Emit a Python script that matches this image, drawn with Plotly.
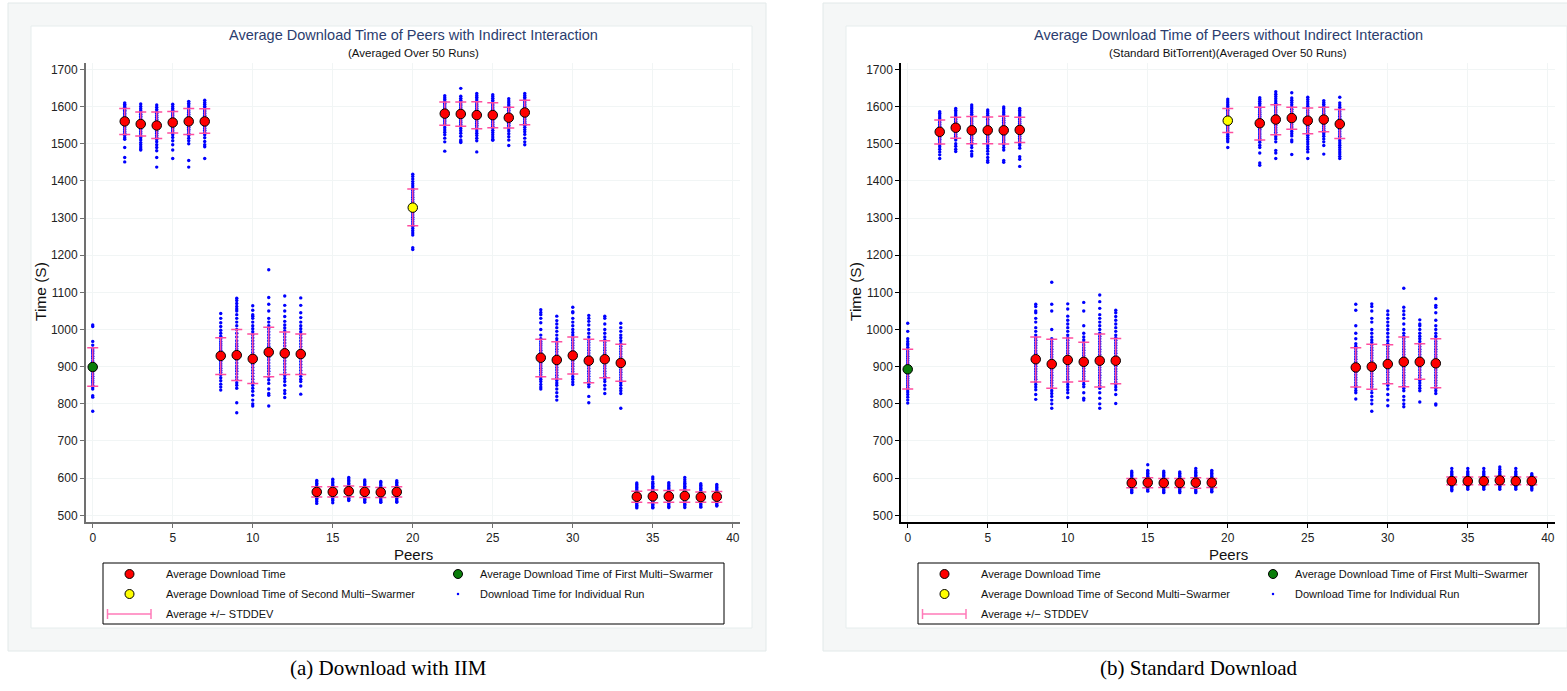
import plotly.graph_objects as go

W, H = 1567, 691

# ---------------- data ----------------
peers = [0, 2, 3, 4, 5, 6, 7, 8, 9, 10, 11, 12, 13, 14, 15, 16, 17, 18, 19,
         20, 22, 23, 24, 25, 26, 27, 28, 29, 30, 31, 32, 33, 34, 35, 36, 37, 38, 39]
first_multi_peer = 0
second_multi_peer = 20

# Panel (a): download with IIM
mean_iim = [899, 1560, 1553, 1549, 1557, 1560, 1560, 929, 931, 921, 939, 936, 934,
            563, 563, 565, 563, 562, 563, 1328, 1581, 1580, 1577, 1577, 1570, 1584,
            924, 918, 930, 916, 920, 910, 550, 551, 551, 552, 549, 550]
upper_iim = [951, 1595, 1585, 1585, 1587, 1595, 1594, 978, 1000, 988, 1006, 993, 988,
             577, 577, 579, 577, 575, 577, 1378, 1612, 1612, 1613, 1610, 1598, 1617,
             974, 967, 980, 974, 970, 960, 565, 568, 567, 568, 563, 564]
lower_iim = [847, 1525, 1521, 1514, 1529, 1525, 1528, 879, 863, 855, 873, 879, 879,
             549, 549, 550, 548, 548, 549, 1279, 1550, 1547, 1540, 1543, 1542, 1551,
             873, 867, 880, 857, 870, 861, 535, 534, 535, 535, 535, 535]
runs_iim = [
    [1012, 1008, 968, 958, 950, 945, 940, 935, 928, 922, 915, 910, 904, 898, 893, 887, 880, 874, 868, 862, 857, 850, 845, 840, 822, 818, 780],
    [1610, 1606, 1602, 1598, 1594, 1590, 1586, 1581, 1577, 1572, 1568, 1563, 1558, 1553, 1548, 1543, 1538, 1533, 1528, 1522, 1516, 1512, 1490, 1463, 1451],
    [1607, 1600, 1594, 1589, 1584, 1579, 1574, 1569, 1563, 1558, 1553, 1548, 1543, 1538, 1532, 1527, 1521, 1516, 1510, 1503, 1497, 1491, 1486, 1483],
    [1604, 1598, 1592, 1587, 1582, 1576, 1571, 1566, 1560, 1555, 1549, 1544, 1539, 1533, 1528, 1522, 1517, 1511, 1505, 1497, 1490, 1481, 1463, 1437],
    [1606, 1600, 1595, 1590, 1585, 1580, 1575, 1570, 1565, 1560, 1555, 1550, 1545, 1540, 1535, 1530, 1524, 1517, 1508, 1497, 1483, 1460],
    [1614, 1609, 1604, 1599, 1594, 1589, 1584, 1579, 1574, 1569, 1564, 1559, 1554, 1549, 1544, 1539, 1534, 1528, 1522, 1515, 1508, 1500, 1455, 1437],
    [1617, 1611, 1606, 1601, 1596, 1591, 1586, 1581, 1576, 1571, 1566, 1561, 1556, 1551, 1546, 1541, 1536, 1530, 1524, 1516, 1506, 1497, 1492, 1460],
    [1043, 1030, 1018, 1008, 998, 990, 982, 975, 968, 962, 956, 950, 944, 938, 932, 926, 920, 914, 908, 902, 896, 890, 884, 878, 870, 862, 853, 845, 837],
    [1084, 1078, 1070, 1062, 1055, 1050, 1040, 1030, 1020, 1010, 1000, 990, 980, 970, 962, 955, 948, 940, 932, 925, 918, 910, 902, 895, 888, 880, 872, 865, 857, 850, 842, 803, 776],
    [1064, 1052, 1040, 1036, 1030, 1020, 1010, 1002, 994, 986, 978, 970, 962, 954, 946, 938, 930, 922, 914, 906, 898, 890, 882, 874, 866, 858, 850, 842, 834, 823, 810, 800, 794],
    [1161, 1086, 1068, 1050, 1030, 1020, 1010, 1002, 994, 986, 978, 970, 962, 955, 948, 940, 932, 925, 918, 910, 902, 895, 888, 880, 872, 864, 855, 840, 828, 823, 794],
    [1090, 1065, 1050, 1035, 1022, 1012, 1004, 996, 988, 980, 972, 964, 956, 948, 940, 932, 924, 916, 908, 900, 892, 884, 876, 868, 860, 850, 836, 828, 817],
    [1085, 1065, 1045, 1032, 1020, 1010, 1002, 994, 986, 978, 970, 962, 954, 946, 938, 930, 922, 914, 906, 898, 890, 882, 874, 866, 860, 848, 826],
    [594, 590, 586, 582, 578, 574, 570, 566, 562, 558, 554, 550, 546, 542, 537, 532],
    [597, 592, 588, 584, 580, 576, 572, 568, 564, 560, 556, 552, 548, 544, 540, 534],
    [602, 598, 594, 590, 586, 582, 578, 574, 570, 566, 562, 558, 554, 550, 546, 542, 540],
    [595, 591, 587, 583, 579, 575, 571, 567, 563, 559, 555, 551, 547, 543, 539, 535],
    [591, 588, 584, 580, 576, 572, 568, 564, 560, 556, 552, 548, 544, 540, 536, 535],
    [593, 589, 585, 581, 577, 573, 569, 565, 561, 557, 553, 549, 545, 541, 537, 535],
    [1418, 1412, 1405, 1398, 1392, 1386, 1380, 1374, 1368, 1362, 1356, 1350, 1344, 1338, 1332, 1326, 1320, 1314, 1308, 1302, 1296, 1290, 1284, 1278, 1272, 1266, 1260, 1254, 1220, 1215],
    [1629, 1624, 1619, 1614, 1609, 1604, 1599, 1594, 1589, 1584, 1579, 1574, 1569, 1564, 1559, 1554, 1549, 1543, 1537, 1531, 1524, 1515, 1505, 1480],
    [1649, 1628, 1622, 1617, 1612, 1607, 1602, 1597, 1592, 1587, 1582, 1577, 1572, 1567, 1562, 1557, 1552, 1547, 1541, 1535, 1528, 1520, 1510, 1506, 1503],
    [1635, 1630, 1625, 1620, 1615, 1610, 1605, 1600, 1595, 1590, 1585, 1580, 1575, 1570, 1565, 1560, 1555, 1550, 1545, 1540, 1534, 1528, 1522, 1515, 1508, 1478],
    [1632, 1627, 1622, 1617, 1612, 1607, 1602, 1597, 1592, 1587, 1582, 1577, 1572, 1567, 1562, 1557, 1552, 1547, 1542, 1536, 1530, 1524, 1518, 1512, 1509],
    [1621, 1615, 1610, 1605, 1600, 1595, 1590, 1585, 1580, 1575, 1570, 1565, 1560, 1555, 1550, 1545, 1540, 1534, 1527, 1519, 1510, 1495],
    [1635, 1630, 1625, 1620, 1615, 1610, 1605, 1600, 1595, 1590, 1585, 1580, 1575, 1570, 1565, 1560, 1555, 1550, 1544, 1538, 1532, 1525, 1515, 1505, 1497],
    [1053, 1046, 1040, 1030, 1018, 1000, 985, 975, 968, 962, 956, 950, 944, 938, 932, 926, 920, 914, 908, 902, 896, 890, 884, 878, 872, 866, 860, 852, 845, 840],
    [1036, 1024, 1015, 1005, 995, 985, 975, 968, 961, 954, 947, 940, 933, 926, 919, 912, 905, 898, 891, 884, 877, 870, 863, 856, 850, 840, 830, 820, 810],
    [1060, 1048, 1045, 1030, 1020, 1010, 1000, 992, 985, 978, 971, 964, 957, 950, 943, 936, 929, 922, 915, 908, 901, 894, 887, 880, 873, 866, 859, 852],
    [1038, 1030, 1022, 1012, 1000, 990, 980, 972, 965, 958, 951, 944, 937, 930, 923, 916, 909, 902, 895, 888, 881, 874, 867, 860, 853, 846, 820, 803],
    [1036, 1030, 1015, 1000, 990, 980, 972, 965, 958, 951, 944, 937, 930, 923, 916, 909, 902, 895, 888, 881, 874, 867, 860, 850, 840, 828],
    [1017, 1005, 995, 985, 978, 970, 962, 955, 948, 941, 934, 927, 920, 913, 906, 899, 892, 885, 878, 871, 864, 857, 850, 842, 835, 828, 788],
    [587, 583, 579, 575, 571, 567, 563, 559, 555, 551, 547, 543, 539, 535, 531, 527, 523, 520],
    [603, 598, 590, 586, 582, 578, 574, 570, 566, 562, 558, 554, 550, 546, 542, 538, 534, 530, 526, 522, 520],
    [588, 584, 580, 576, 572, 568, 564, 560, 556, 552, 548, 544, 540, 536, 532, 528, 524, 521],
    [602, 596, 590, 586, 582, 578, 574, 570, 566, 562, 558, 554, 550, 546, 542, 538, 534, 530, 526, 521],
    [585, 581, 577, 573, 569, 565, 561, 557, 553, 549, 545, 541, 537, 533, 529, 525, 522],
    [583, 579, 575, 571, 567, 563, 559, 555, 551, 547, 543, 539, 535, 531, 527, 525],
]

# Panel (b): standard download
mean_std = [893, 1532, 1543, 1536, 1536, 1536, 1537, 920, 907, 918, 913, 916, 916,
            587, 588, 587, 587, 588, 588, 1562, 1555, 1565, 1569, 1562, 1565, 1553,
            898, 900, 907, 913, 913, 909, 592, 592, 592, 594, 592, 592]
upper_std = [947, 1564, 1571, 1573, 1572, 1574, 1571, 980, 974, 977, 966, 988, 976,
             599, 601, 599, 599, 601, 599, 1595, 1598, 1605, 1598, 1596, 1598, 1592,
             951, 960, 959, 980, 962, 975, 603, 603, 603, 605, 603, 603]
lower_std = [840, 1499, 1515, 1500, 1500, 1499, 1503, 859, 842, 859, 861, 845, 854,
             574, 574, 575, 575, 573, 575, 1530, 1510, 1524, 1539, 1527, 1532, 1514,
             845, 839, 854, 846, 866, 843, 582, 582, 582, 582, 582, 582]
runs_std = [
    [1017, 995, 975, 968, 962, 958, 952, 946, 940, 934, 928, 922, 916, 910, 904, 898, 892, 886, 880, 874, 868, 862, 856, 850, 844, 838, 832, 825, 818, 810, 802],
    [1586, 1582, 1577, 1572, 1567, 1562, 1557, 1552, 1547, 1542, 1537, 1532, 1527, 1522, 1517, 1512, 1507, 1502, 1497, 1492, 1485, 1478, 1470, 1460],
    [1595, 1590, 1585, 1580, 1575, 1570, 1565, 1560, 1555, 1550, 1545, 1540, 1535, 1530, 1525, 1520, 1515, 1510, 1500, 1493, 1485, 1479],
    [1604, 1599, 1594, 1589, 1584, 1579, 1574, 1569, 1564, 1559, 1554, 1549, 1544, 1539, 1534, 1529, 1524, 1519, 1514, 1509, 1503, 1497, 1490, 1480, 1472, 1467],
    [1591, 1586, 1581, 1576, 1571, 1566, 1561, 1556, 1551, 1546, 1541, 1536, 1531, 1526, 1521, 1516, 1511, 1506, 1500, 1494, 1487, 1480, 1472, 1463, 1455, 1450],
    [1599, 1594, 1588, 1583, 1578, 1573, 1568, 1563, 1558, 1553, 1548, 1543, 1538, 1533, 1528, 1523, 1518, 1513, 1508, 1503, 1497, 1490, 1483, 1455, 1450],
    [1595, 1590, 1585, 1580, 1575, 1570, 1565, 1560, 1555, 1550, 1545, 1540, 1535, 1530, 1525, 1520, 1515, 1510, 1505, 1500, 1495, 1488, 1465, 1458, 1439],
    [1068, 1062, 1050, 1045, 1030, 1020, 1005, 995, 985, 978, 971, 964, 957, 950, 943, 936, 929, 922, 915, 908, 901, 894, 887, 880, 873, 866, 859, 852, 845, 838, 825, 812],
    [1127, 1068, 1050, 1000, 975, 968, 961, 954, 947, 940, 933, 926, 919, 912, 905, 898, 891, 884, 877, 870, 863, 856, 849, 842, 835, 828, 820, 810, 800, 788],
    [1069, 1055, 1036, 1025, 1015, 1005, 995, 985, 978, 971, 964, 957, 950, 943, 936, 929, 922, 915, 908, 901, 894, 887, 880, 873, 866, 859, 852, 845, 838, 830, 817],
    [1073, 1050, 1010, 990, 980, 972, 965, 958, 951, 944, 937, 930, 923, 916, 909, 902, 895, 888, 881, 874, 867, 860, 853, 846, 830, 815, 810],
    [1093, 1075, 1057, 1040, 1030, 1020, 1010, 1000, 990, 982, 975, 968, 961, 954, 947, 940, 933, 926, 919, 912, 905, 898, 891, 884, 877, 870, 863, 856, 849, 842, 830, 815, 800, 788],
    [1052, 1045, 1035, 1025, 1015, 1005, 995, 985, 978, 971, 964, 957, 950, 943, 936, 929, 922, 915, 908, 901, 894, 887, 880, 873, 866, 859, 852, 845, 838, 825, 801],
    [619, 615, 611, 607, 603, 599, 595, 591, 587, 583, 579, 575, 571, 567, 563, 561],
    [636, 621, 617, 613, 609, 605, 601, 597, 593, 589, 585, 581, 577, 573, 569, 565],
    [619, 615, 611, 607, 603, 599, 595, 591, 587, 583, 579, 575, 571, 567, 563, 561],
    [617, 613, 609, 605, 601, 597, 593, 589, 585, 581, 577, 573, 569, 565, 561],
    [626, 620, 616, 612, 608, 604, 600, 596, 592, 588, 584, 580, 576, 572, 568, 564, 561],
    [621, 617, 613, 609, 605, 601, 597, 593, 589, 585, 581, 577, 573, 569, 565, 563],
    [1620, 1615, 1610, 1605, 1600, 1595, 1590, 1585, 1580, 1575, 1570, 1565, 1560, 1555, 1550, 1545, 1540, 1535, 1530, 1525, 1520, 1515, 1510, 1505, 1490],
    [1624, 1619, 1614, 1609, 1604, 1599, 1594, 1589, 1584, 1579, 1574, 1569, 1564, 1559, 1554, 1549, 1544, 1539, 1534, 1529, 1524, 1519, 1514, 1509, 1504, 1496, 1490, 1475, 1448, 1442],
    [1640, 1633, 1627, 1621, 1615, 1609, 1603, 1597, 1591, 1585, 1579, 1573, 1567, 1561, 1555, 1549, 1543, 1537, 1531, 1525, 1519, 1513, 1505, 1482, 1475, 1460],
    [1637, 1623, 1617, 1611, 1605, 1599, 1593, 1587, 1581, 1575, 1569, 1563, 1557, 1551, 1545, 1539, 1533, 1527, 1521, 1510, 1505, 1471],
    [1625, 1619, 1613, 1607, 1601, 1595, 1589, 1583, 1577, 1571, 1565, 1559, 1553, 1547, 1541, 1535, 1529, 1523, 1517, 1511, 1505, 1499, 1492, 1485, 1478, 1460],
    [1616, 1611, 1606, 1601, 1596, 1591, 1586, 1581, 1576, 1571, 1566, 1561, 1556, 1551, 1546, 1541, 1536, 1531, 1526, 1520, 1513, 1505, 1495, 1472],
    [1625, 1610, 1604, 1598, 1592, 1586, 1580, 1574, 1568, 1562, 1556, 1550, 1544, 1538, 1532, 1526, 1520, 1514, 1508, 1502, 1496, 1490, 1484, 1478, 1472, 1466, 1460],
    [1068, 1052, 1010, 990, 975, 962, 955, 948, 941, 934, 927, 920, 913, 906, 899, 892, 885, 878, 871, 864, 857, 850, 843, 836, 830, 813],
    [1069, 1062, 1050, 1030, 1020, 1000, 990, 980, 972, 965, 958, 951, 944, 937, 930, 923, 916, 909, 902, 895, 888, 881, 874, 867, 860, 853, 846, 839, 830, 820, 810, 800, 780],
    [1050, 1040, 1030, 1020, 1010, 1000, 990, 980, 970, 962, 955, 948, 941, 934, 927, 920, 913, 906, 899, 892, 885, 878, 871, 864, 857, 850, 840, 825, 810, 795],
    [1111, 1060, 1050, 1040, 1030, 1015, 1000, 990, 982, 975, 968, 961, 954, 947, 940, 933, 926, 919, 912, 905, 898, 891, 884, 877, 870, 863, 856, 849, 842, 835, 820, 810, 800, 792],
    [1026, 1015, 1010, 1000, 990, 982, 975, 968, 961, 954, 947, 940, 933, 926, 919, 912, 905, 898, 891, 884, 877, 870, 863, 856, 849, 842, 835, 805],
    [1083, 1065, 1060, 1045, 1025, 1010, 1000, 990, 982, 975, 968, 961, 954, 947, 940, 933, 926, 919, 912, 905, 898, 891, 884, 877, 870, 863, 856, 849, 842, 835, 828, 800, 797],
    [626, 618, 614, 610, 606, 602, 598, 594, 590, 586, 582, 578, 574, 570, 566],
    [626, 618, 614, 610, 606, 602, 598, 594, 590, 586, 582, 578, 574, 570],
    [626, 618, 614, 610, 606, 602, 598, 594, 590, 586, 582, 578, 574, 570],
    [630, 624, 618, 614, 610, 606, 602, 598, 594, 590, 586, 582, 578, 574, 570],
    [626, 618, 614, 610, 606, 602, 598, 594, 590, 586, 582, 578, 574, 570],
    [612, 608, 604, 600, 596, 592, 588, 584, 580, 576, 572, 568],
]

x_ticks = [0, 5, 10, 15, 20, 25, 30, 35, 40]
y_ticks = [500, 600, 700, 800, 900, 1000, 1100, 1200, 1300, 1400, 1500, 1600, 1700]

titles = ["Average Download Time of Peers with Indirect Interaction",
          "Average Download Time of Peers without Indirect Interaction"]
subtitles = ["(Averaged Over 50 Runs)",
             "(Standard BitTorrent)(Averaged Over 50 Runs)"]
captions = ["(a) Download with IIM", "(b) Standard Download"]
legend_labels = ["Average Download Time", "Average Download Time of First Multi\u2212Swarmer",
                 "Average Download Time of Second Multi\u2212Swarmer", "Download Time for Individual Run",
                 "Average +/\u2212 STDDEV"]

# ---------------- styling ----------------
FONT = "Liberation Sans"
PINK = "#ff4d9f"
PINK_LIGHT = "#ff7ab8"
BLUE = "#0000ff"
RED = "#ff0000"
GREEN = "#0a7d0a"
YELLOW = "#ffff00"
NAVY = "#2b3d6e"


def X(px):
    return px / W


def Y(py):
    return 1 - py / H


fig = go.Figure()

panels = [
    dict(mean=mean_iim, up=upper_iim, lo=lower_iim, runs=runs_iim, xa="x", ya="y", dx=0,
         axcolor="#707070", axw=2),
    dict(mean=mean_std, up=upper_std, lo=lower_std, runs=runs_std, xa="x2", ya="y2", dx=815,
         axcolor="#000000", axw=1.5),
]

shapes = []
annotations = []

for i, p in enumerate(panels):
    dx = p["dx"]
    # individual runs
    xs = [pe for pe, vals in zip(peers, p["runs"]) for _ in vals]
    ys = [v for vals in p["runs"] for v in vals]
    fig.add_trace(go.Scatter(x=xs, y=ys, mode="markers", xaxis=p["xa"], yaxis=p["ya"],
                             marker=dict(size=3.4, color=BLUE, line=dict(width=0)),
                             showlegend=False, hoverinfo="skip"))
    # +/- stddev caps
    fig.add_trace(go.Scatter(x=peers, y=p["mean"], mode="markers", xaxis=p["xa"], yaxis=p["ya"],
                             marker=dict(size=1, color="rgba(0,0,0,0)"),
                             error_y=dict(type="data", symmetric=False,
                                          array=[u - m for u, m in zip(p["up"], p["mean"])],
                                          arrayminus=[m - l for m, l in zip(p["mean"], p["lo"])],
                                          color=PINK, thickness=1.5, width=5.5),
                             showlegend=False, hoverinfo="skip"))
    # averages
    for color, sel in [(RED, lambda pe: pe not in (first_multi_peer, second_multi_peer)),
                       (GREEN, lambda pe: pe == first_multi_peer),
                       (YELLOW, lambda pe: pe == second_multi_peer)]:
        px_ = [pe for pe in peers if sel(pe)]
        py_ = [m for pe, m in zip(peers, p["mean"]) if sel(pe)]
        fig.add_trace(go.Scatter(x=px_, y=py_, mode="markers", xaxis=p["xa"], yaxis=p["ya"],
                                 marker=dict(size=9.5, color=color, line=dict(color="#000", width=1)),
                                 showlegend=False, hoverinfo="skip"))

    # frames
    shapes.append(dict(type="rect", xref="paper", yref="paper", layer="below",
                       x0=X(8 + dx), x1=X(766 + dx), y0=Y(651), y1=Y(3),
                       fillcolor="#f5f7f7", line=dict(color="#e2e9e9", width=1)))
    shapes.append(dict(type="rect", xref="paper", yref="paper", layer="below",
                       x0=X(31 + dx), x1=X(752 + dx), y0=Y(628), y1=Y(26),
                       fillcolor="#ffffff", line=dict(color="#e6eded", width=1)))

    cx = 413 + dx
    annotations += [
        dict(text=titles[i], x=X(cx), y=Y(35), xref="paper", yref="paper", showarrow=False,
             xanchor="center", yanchor="middle", font=dict(family=FONT, size=14.5, color=NAVY)),
        dict(text=subtitles[i], x=X(cx), y=Y(52.5), xref="paper", yref="paper", showarrow=False,
             xanchor="center", yanchor="middle", font=dict(family=FONT, size=11.5, color="#111")),
        dict(text="Peers", x=X(cx), y=Y(554), xref="paper", yref="paper", showarrow=False,
             xanchor="center", yanchor="middle", font=dict(family=FONT, size=15, color="#111")),
        dict(text="Time (S)", x=X(40 + dx), y=Y(292), xref="paper", yref="paper", showarrow=False,
             textangle=-90, xanchor="center", yanchor="middle",
             font=dict(family=FONT, size=15.5, color="#111")),
        dict(text=captions[i], x=X(388 + dx - (4 if i else 0)), y=Y(668), xref="paper", yref="paper",
             showarrow=False, xanchor="center", yanchor="middle",
             font=dict(family="Liberation Serif", size=21, color="#000")),
    ]

    # legend box
    shapes.append(dict(type="rect", xref="paper", yref="paper", layer="above",
                       x0=X(103 + dx), x1=X(724 + dx), y0=Y(624), y1=Y(563),
                       fillcolor="rgba(0,0,0,0)", line=dict(color="#000", width=1)))
    rows = [574, 594, 614]
    cols_m = [129.5, 458]
    cols_t = [164, 478]
    items = [(0, 0, RED, 9), (1, 0, GREEN, 9), (0, 1, YELLOW, 9), (1, 1, BLUE, 2.5)]
    for (c, r, color, d), label in zip(items, legend_labels[:4]):
        mx, my = cols_m[c] + dx, rows[r]
        shapes.append(dict(type="circle", xref="paper", yref="paper", layer="above",
                           x0=X(mx - d / 2), x1=X(mx + d / 2), y0=Y(my + d / 2), y1=Y(my - d / 2),
                           fillcolor=color,
                           line=dict(color="#000" if color != BLUE else BLUE, width=1 if color != BLUE else 0)))
        annotations.append(dict(text=label, x=X(cols_t[c] + dx), y=Y(my), xref="paper", yref="paper",
                                showarrow=False, xanchor="left", yanchor="middle",
                                font=dict(family=FONT, size=11, color="#111")))
    # stddev legend symbol
    ly = rows[2]
    shapes.append(dict(type="line", xref="paper", yref="paper", layer="above",
                       x0=X(107.5 + dx), x1=X(151 + dx), y0=Y(ly), y1=Y(ly),
                       line=dict(color=PINK_LIGHT, width=1.5)))
    for ex in (107.5, 151):
        shapes.append(dict(type="line", xref="paper", yref="paper", layer="above",
                           x0=X(ex + dx), x1=X(ex + dx), y0=Y(ly + 5), y1=Y(ly - 5),
                           line=dict(color=PINK_LIGHT, width=1.5)))
    annotations.append(dict(text=legend_labels[4], x=X(cols_t[0] + dx), y=Y(ly), xref="paper", yref="paper",
                            showarrow=False, xanchor="left", yanchor="middle",
                            font=dict(family=FONT, size=11, color="#111")))

axis_common = dict(showgrid=True, gridcolor="#f1f5f5", gridwidth=1, zeroline=False,
                   ticks="outside", ticklen=4, showline=True,
                   tickfont=dict(family=FONT, size=12, color="#222"))

fig.update_layout(
    width=W, height=H, margin=dict(l=0, r=0, t=0, b=0),
    paper_bgcolor="#ffffff", plot_bgcolor="#e5e5e5",
    showlegend=False, shapes=shapes, annotations=annotations,
    xaxis=dict(domain=[X(86), X(740)], range=[-0.42, 40.45], tickvals=x_ticks, anchor="y",
               linecolor=panels[0]["axcolor"], linewidth=panels[0]["axw"], tickcolor=panels[0]["axcolor"],
               **axis_common),
    yaxis=dict(domain=[Y(522), Y(62.7)], range=[482, 1718], tickvals=y_ticks, anchor="x",
               linecolor=panels[0]["axcolor"], linewidth=panels[0]["axw"], tickcolor=panels[0]["axcolor"],
               **axis_common),
    xaxis2=dict(domain=[X(901), X(1555)], range=[-0.42, 40.45], tickvals=x_ticks, anchor="y2",
                linecolor=panels[1]["axcolor"], linewidth=panels[1]["axw"], tickcolor=panels[1]["axcolor"],
                **axis_common),
    yaxis2=dict(domain=[Y(522), Y(62.7)], range=[482, 1718], tickvals=y_ticks, anchor="x2",
                linecolor=panels[1]["axcolor"], linewidth=panels[1]["axw"], tickcolor=panels[1]["axcolor"],
                **axis_common),
)

fig.write_html("out.html")
